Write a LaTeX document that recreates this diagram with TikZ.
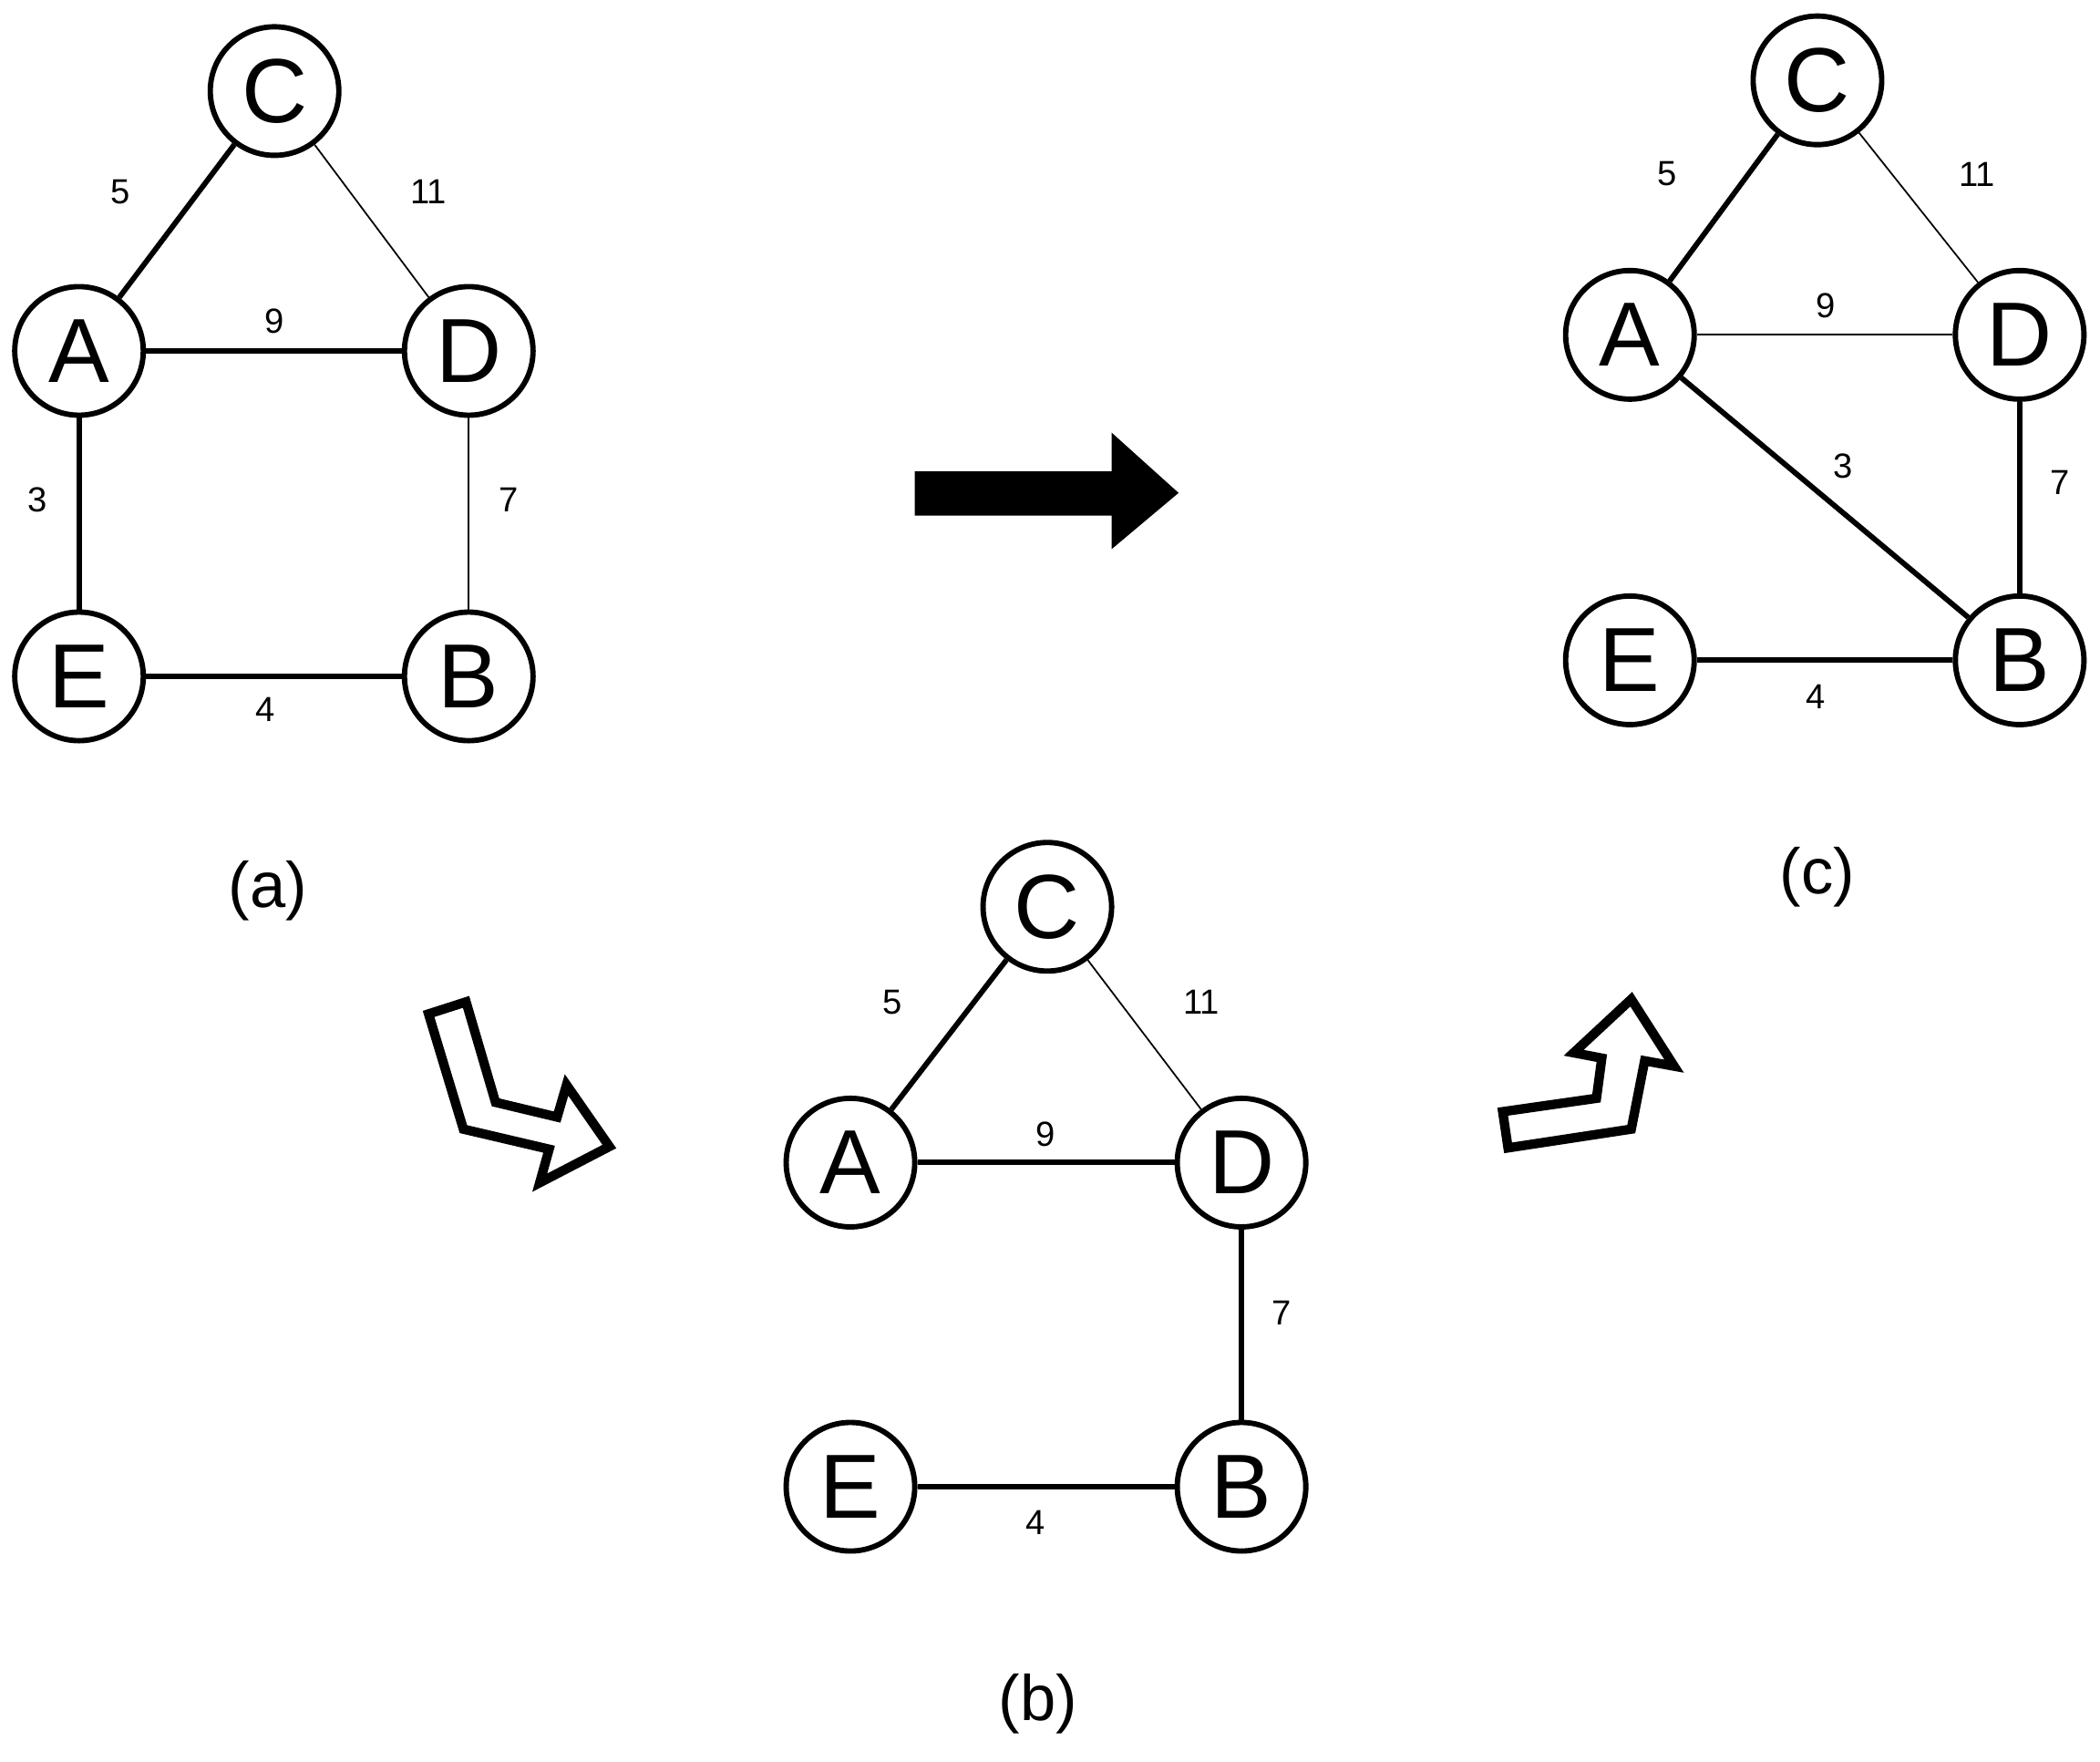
\documentclass[tikz,border=0pt]{standalone}
\usepackage{fontspec}
\setmainfont{Liberation Sans}
\begin{document}
\begin{tikzpicture}[x=0.5pt,y=-0.5pt,
 v/.style={circle,draw,line width=2pt,minimum size=48pt,inner sep=0pt,font=\fontsize{34}{34}\selectfont,fill=white},
 tk/.style={line width=2pt},
 tn/.style={line width=0.6pt},
 w/.style={font=\fontsize{13}{13}\selectfont},
 captn/.style={font=\fontsize{24}{24}\selectfont}]
\useasboundingbox (0,0) rectangle (1568,1315);
% graph a
\node[v] (aC) at (205,68) {C};
\node[v] (aA) at (59,262) {A};
\node[v] (aD) at (350,262) {D};
\node[v] (aE) at (59,505) {E};
\node[v] (aB) at (350,505) {B};
\draw[tk] (aC)--(aA); \draw[tn] (aC)--(aD); \draw[tk] (aA)--(aD);
\draw[tk] (aA)--(aE); \draw[tn] (aD)--(aB); \draw[tk] (aE)--(aB);
\node[w] (la1) at (90,143) {5}; \node[w] (la2) at (320,143) {11};
\node[w] (la3) at (205,240) {9}; \node[w] (la4) at (28,373) {3};
\node[w] (la5) at (380,373) {7}; \node[w] (la6) at (198,530) {4};
\node[captn] (ca) at (200,665) {(a)};
% graph c
\node[v] (cC) at (1357,60) {C};
\node[v] (cA) at (1217,250) {A};
\node[v] (cD) at (1508,250) {D};
\node[v] (cE) at (1217,493) {E};
\node[v] (cB) at (1508,493) {B};
\draw[tk] (cC)--(cA); \draw[tn] (cC)--(cD); \draw[tn] (cA)--(cD);
\draw[tk] (cA)--(cB); \draw[tk] (cD)--(cB); \draw[tk] (cE)--(cB);
\node[w] (lc1) at (1245,130) {5}; \node[w] (lc2) at (1476,130) {11};
\node[w] (lc3) at (1363,228) {9}; \node[w] (lc4) at (1376,348) {3};
\node[w] (lc5) at (1538,360) {7}; \node[w] (lc6) at (1356,520) {4};
\node[captn] (cc) at (1357,655) {(c)};
% graph b
\node[v] (bC) at (782,677) {C};
\node[v] (bA) at (635,868) {A};
\node[v] (bD) at (927,868) {D};
\node[v] (bE) at (635,1110) {E};
\node[v] (bB) at (927,1110) {B};
\draw[tk] (bC)--(bA); \draw[tn] (bC)--(bD); \draw[tk] (bA)--(bD);
\draw[tk] (bD)--(bB); \draw[tk] (bE)--(bB);
\node[w] (lb1) at (666,748) {5}; \node[w] (lb2) at (897,748) {11};
\node[w] (lb3) at (781,847) {9}; \node[w] (lb5) at (957,980) {7};
\node[w] (lb6) at (773,1137) {4};
\node[captn] (cb) at (775,1272) {(b)};
% arrows
\fill (683,352) -- (830,352) -- (830,323) -- (880,368) -- (830,410) -- (830,385) -- (683,385) -- cycle;
\draw[line width=3.5pt,fill=white,line join=miter] (320,757) -- (348,748) -- (370,823) -- (416,834) -- (423,810) -- (455,856) -- (403,883) -- (410,858) -- (346,843) -- cycle;
\draw[line width=3.5pt,fill=white,line join=miter] (1122,830) -- (1192,820) -- (1196,790) -- (1175,786) -- (1218,746) -- (1250,796) -- (1228,792) -- (1218,843) -- (1126,857) -- cycle;
\end{tikzpicture}
\end{document}
